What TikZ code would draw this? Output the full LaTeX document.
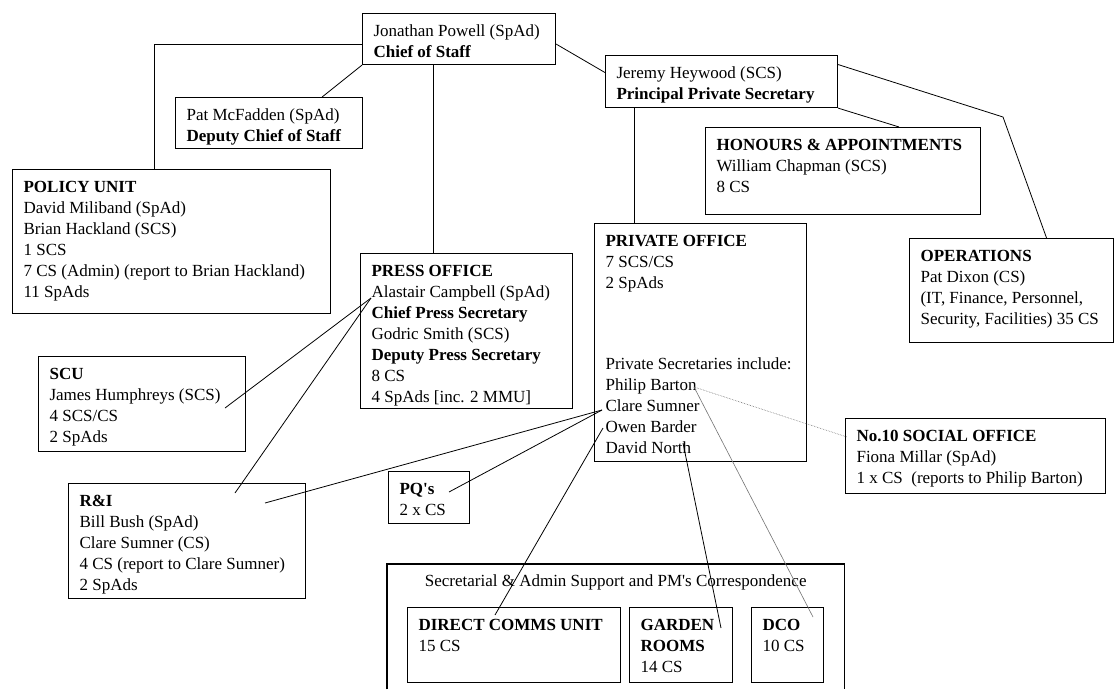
\documentclass[tikz,border=0pt]{standalone}
\usepackage{fontspec}
\setmainfont{Liberation Serif}
\usetikzlibrary{calc}

\newcommand{\unitfont}{\fontsize{17}{21}\selectfont}
% text of a box: outer width, outer height, lines
\newcommand{\unitlines}[3]{\parbox[t][\dimexpr#2pt-16pt\relax][t]{\dimexpr#1pt-22pt\relax}{\raggedright\strut#3}}

\begin{document}
\begin{tikzpicture}[x=1pt,y=-1pt,
  unit/.style={draw, line width=1.1pt, anchor=north west, inner xsep=11pt, inner ysep=8pt, font=\unitfont},
  group/.style={anchor=north west, inner xsep=11pt, inner ysep=8pt, font=\unitfont},
  link/.style={line width=0.8pt},
  faint/.style={line width=0.6pt, black!55}]
\useasboundingbox[fill=white] (0,0) rectangle (1119,689);

% heads
\node[unit] (jp) at (362,13) {\unitlines{193}{51}{Jonathan Powell (SpAd)\\\textbf{Chief of Staff}}};
\node[unit] (pat) at (175,97) {\unitlines{187}{51}{Pat McFadden (SpAd)\\\textbf{Deputy Chief of Staff}}};
\node[unit] (jh) at (605,55) {\unitlines{232}{52}{Jeremy Heywood (SCS)\\\textbf{Principal Private Secretary}}};

% units
\node[unit] (policy) at (12,169) {\unitlines{318}{144}{\textbf{POLICY UNIT}\\David Miliband (SpAd)\\Brian Hackland (SCS)\\1 SCS\\7 CS (Admin) (report to Brian Hackland)\\11 SpAds}};
\node[unit] (honours) at (705,127) {\unitlines{275}{87}{\textbf{HONOURS \& APPOINTMENTS}\\William Chapman (SCS)\\8 CS}};
\node[unit] (private) at (594,223) {\unitlines{212}{238}{\textbf{PRIVATE OFFICE}\\7 SCS/CS\\2 SpAds\\[60pt]Private Secretaries include:\\Philip Barton\\Clare Sumner\\Owen Barder\\David North}};
\node[unit] (ops) at (909,238) {\unitlines{204}{104}{\textbf{OPERATIONS}\\Pat Dixon (CS)\\(IT, Finance, Personnel,\\Security, Facilities) 35 CS}};
\node[unit] (press) at (360,253) {\unitlines{212}{155}{\textbf{PRESS OFFICE}\\Alastair Campbell (SpAd)\\\textbf{Chief Press Secretary}\\Godric Smith (SCS)\\\textbf{Deputy Press Secretary}\\8 CS\\4 SpAds [inc. 2 MMU]}};
\node[unit] (scu) at (38,356) {\unitlines{207}{95}{\textbf{SCU}\\James Humphreys (SCS)\\4 SCS/CS\\2 SpAds}};
\node[unit] (ri) at (68,483) {\unitlines{237}{115}{\textbf{R\&I}\\Bill Bush (SpAd)\\Clare Sumner (CS)\\4 CS (report to Clare Sumner)\\2 SpAds}};
\node[unit] (pq) at (388,471) {\unitlines{81}{52}{\textbf{PQ\textquotesingle s}\\2 x CS}};
\node[unit] (social) at (845,418) {\unitlines{260}{75}{\textbf{No.10 SOCIAL OFFICE}\\Fiona Millar (SpAd)\\1 x CS\ \ (reports to Philip Barton)}};

% secretarial group
\node[group] (sec) at (387,564) {\parbox[t][109pt][t]{435pt}{\centering\strut Secretarial \& Admin Support and PM\textquotesingle s Correspondence}};
\draw[line width=1.1pt] (sec.south west) -- (sec.north west) -- (sec.north east) -- (sec.south east);
\node[unit] (dcu) at (407,607) {\unitlines{213}{75}{\textbf{DIRECT COMMS UNIT}\\15 CS}};
\node[unit] (garden) at (629,607) {\unitlines{103}{75}{\textbf{GARDEN}\\\textbf{ROOMS}\\14 CS}};
\node[unit] (dco) at (751,607) {\unitlines{72}{75}{\textbf{DCO}\\10 CS}};

% points on names
\coordinate (alastair) at ([shift={(11,45)}]press.north west);
\coordinate (philip) at ([shift={(100,164)}]private.north west);
\coordinate (clare) at ([shift={(8,187)}]private.north west);
\coordinate (owen) at ([shift={(9,205)}]private.north west);
\coordinate (david) at ([shift={(89,220)}]private.north west);
\coordinate (opsbend) at (1003,117);

% connectors
\draw[link] ([yshift=-5pt]jp.west) -| ([xshift=-17pt]policy.north);
\draw[link] (jp.south west) -- ([xshift=-41pt]pat.north east);
\draw[link] ([xshift=-25.5pt]jp.south) -- ([xshift=-33pt]press.north);
\draw[link] ([yshift=-5pt]jp.east) -- ([yshift=9pt]jh.west);
\draw[link] ([xshift=-87pt]jh.south) -- ([xshift=-66pt]private.north);
\draw[link] (jh.south east) -- ([xshift=-82pt]honours.north east);
\draw[link] ([yshift=17pt]jh.east) -- (opsbend) -- ([xshift=35pt]ops.north);
\draw[link] (alastair) -- ([shift={(187,52)}]scu.north west);
\draw[link] (alastair) -- ([shift={(167,10)}]ri.north west);
\draw[link] (clare) -- ([shift={(197,20)}]ri.north west);
\draw[link] (clare) -- ([shift={(61,21)}]pq.north west);
\draw[link] (owen) -- ([shift={(88,8)}]dcu.north west);
\draw[link] (david) -- ([shift={(92,21)}]garden.north west);
\draw[faint] (philip) -- ([shift={(62,10)}]dco.north west);
\draw[faint, densely dotted] (philip) -- ([shift={(2,19)}]social.north west);
\end{tikzpicture}
\end{document}
